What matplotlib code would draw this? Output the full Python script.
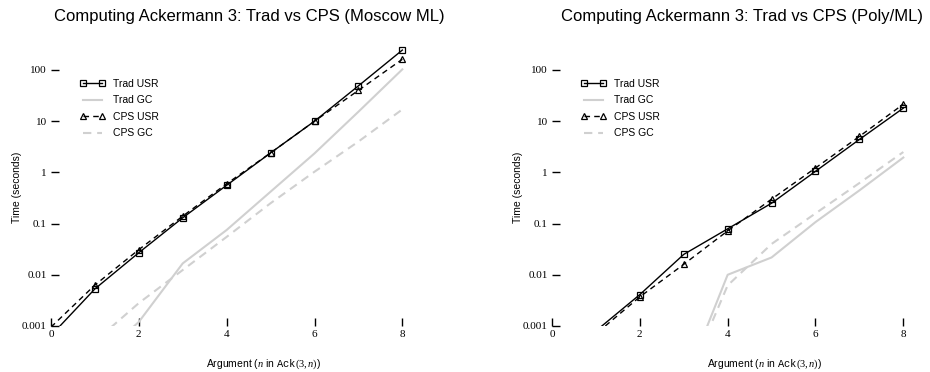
import numpy as np
import matplotlib
matplotlib.use('Agg')
import matplotlib.pyplot as plt

plt.rcParams['font.family'] = ['Liberation Sans', 'DejaVu Sans']
plt.rcParams['mathtext.fontset'] = 'custom'
plt.rcParams['mathtext.rm'] = 'Liberation Serif'
plt.rcParams['mathtext.it'] = 'Liberation Serif:italic'
plt.rcParams['mathtext.tt'] = 'Liberation Mono'

n = [0, 1, 2, 3, 4, 5, 6, 7, 8]

# Moscow ML
mosml_trad_usr = [0.00065, 0.0053, 0.027, 0.13, 0.56, 2.4, 10, 49, 245]
mosml_trad_gc = [0.00005, 0.0002, 0.0012, 0.0167, 0.075, 0.42, 2.35, 15.3, 103]
mosml_cps_usr = [0.00095, 0.0063, 0.031, 0.14, 0.6, 2.4, 10, 40, 162]
mosml_cps_gc = [0.0001, 0.0005, 0.0028, 0.0124, 0.055, 0.25, 1.03, 4.0, 17]

# Poly/ML
poly_trad_usr = [0.0001, 0.0008, 0.0041, 0.025, 0.079, 0.25, 1.05, 4.4, 18]
poly_trad_gc = [0.000001, 0.00001, 0.00007, 0.00007, 0.01, 0.0218, 0.107, 0.445, 1.95]
poly_cps_usr = [0.0001, 0.0007, 0.0037, 0.016, 0.072, 0.30, 1.22, 5.05, 21.5]
poly_cps_gc = [0.000001, 0.00001, 0.00006, 0.00006, 0.0062, 0.04, 0.158, 0.62, 2.5]

xticks = [0, 2, 4, 6, 8]
yticks = [0.001, 0.01, 0.1, 1, 10, 100]
yticklabels = ['0.001', '0.01', '0.1', '1', '10', '100']

panels = [
    ('Computing Ackermann 3: Trad vs CPS (Moscow ML)',
     mosml_trad_usr, mosml_trad_gc, mosml_cps_usr, mosml_cps_gc, 0.0548, 0.544),
    ('Computing Ackermann 3: Trad vs CPS (Poly/ML)',
     poly_trad_usr, poly_trad_gc, poly_cps_usr, poly_cps_gc, 0.5935, 0.522),
]

fig = plt.figure(figsize=(9.3, 3.72), dpi=100)
gray = '#d0d0d0'

for title, tusr, tgc, cusr, cgc, x0, tx in panels:
    ax = fig.add_axes([x0, 0.1237, 0.392, 0.771])
    ax.set_yscale('log')
    ax.plot(n, tusr, color='k', lw=1.0, marker='s', ms=4.5, mfc='none',
            mew=0.9, label='Trad USR')
    ax.plot(n, tgc, color=gray, lw=1.5, label='Trad GC')
    ax.plot(n, cusr, color='k', lw=1.0, ls=(0, (4, 3)), marker='^', ms=4.5,
            mfc='none', mew=0.9, label='CPS USR')
    ax.plot(n, cgc, color=gray, lw=1.5, ls=(0, (4, 2.8)), label='CPS GC')
    ax.set_xlim(0, 8.3)
    ax.set_ylim(0.001, 400)
    for s in ax.spines.values():
        s.set_visible(False)
    ax.set_xticks(xticks)
    ax.set_xticklabels([str(t) for t in xticks], family='Liberation Serif', fontsize=8)
    ax.set_yticks(yticks)
    ax.set_yticklabels(yticklabels, family='Liberation Serif', fontsize=8)
    ax.minorticks_off()
    ax.tick_params(direction='in', length=6, width=1.0, pad=3)
    ax.set_title(title, fontsize=12, x=tx, y=1.051, va='center')
    ax.set_ylabel('Time (seconds)', fontsize=7.5)
    ax.yaxis.set_label_coords(-0.08, 0.485)
    ax.set_xlabel(r'Argument ($n$ in $\mathtt{Ack}(3,n)$)', fontsize=7.5)
    ax.xaxis.set_label_coords(0.582, -0.11)
    ax.legend(loc='upper left', bbox_to_anchor=(0.065, 0.880), frameon=False,
              fontsize=7.5, numpoints=2, handlelength=2.4, handletextpad=0.75,
              borderpad=0, labelspacing=0.62)

fig.savefig('out.png', dpi=100)
